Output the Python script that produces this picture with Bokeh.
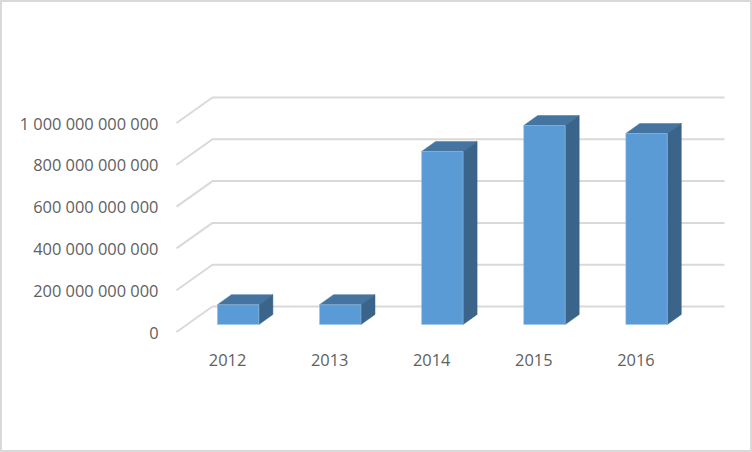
from bokeh.plotting import figure
from bokeh.models import Range1d, FixedTicker, LinearAxis
from bokeh.embed import file_html
from bokeh.resources import INLINE

# data
years = ["2012", "2013", "2014", "2015", "2016"]
values = [95e9, 95e9, 828e9, 952e9, 914e9]
y_ticks = [0, 200e9, 400e9, 600e9, 800e9, 1000e9]
y_labels = ["0", "200 000 000 000", "400 000 000 000", "600 000 000 000",
            "800 000 000 000", "1 000 000 000 000"]

# scale: pixels per slot / per unit
SLOT = 102.1
UNIT = 209 / 1e12
FONT = "Open Sans"
TEXT = "#5f5f5f"
GRID = "#d9d9d9"
FRONT, TOP, SIDE = "#5b9bd5", "#44749f", "#3a6489"

W, H = 752, 452
LEFT, RIGHT, TOP_B, BOTTOM = 170, 22, 90, 116

x0_page, y0_page = 174, 329.5   # origin of the front plane inside the bordered canvas
fl, fr = LEFT, W - RIGHT
ft, fb = TOP_B, H - BOTTOM

p = figure(width=W, height=H, output_backend="svg", toolbar_location=None,
           x_range=Range1d((fl - x0_page) / SLOT, (fr - x0_page) / SLOT),
           y_range=Range1d((y0_page - fb) / UNIT, (y0_page - ft) / UNIT),
           x_axis_type=None, y_axis_type=None,
           min_border_left=LEFT, min_border_right=RIGHT,
           min_border_top=TOP_B, min_border_bottom=BOTTOM)
p.outline_line_color = None
p.xgrid.visible = False
p.ygrid.visible = False
p.background_fill_color = "white"
p.border_fill_color = "white"
p.styles = {"border": f"2px solid {GRID}", "box-sizing": "border-box"}

# axes
ya = LinearAxis(ticker=FixedTicker(ticks=y_ticks),
                major_label_overrides={float(t) if t else 0: l for t, l in zip(y_ticks, y_labels)})
xa = LinearAxis(ticker=FixedTicker(ticks=[i + 0.5 for i in range(len(years))]),
                major_label_overrides={i + 0.5: y for i, y in enumerate(years)})
for a, standoff in ((ya, 8), (xa, 9)):
    a.axis_line_color = None
    a.major_tick_line_color = None
    a.minor_tick_line_color = None
    a.major_label_text_font = FONT
    a.major_label_text_font_size = "16.4px"
    a.major_label_text_color = TEXT
    a.major_label_standoff = standoff
p.add_layout(ya, "left")
p.add_layout(xa, "below")

# gridlines on floor/back wall
DX, DY = 36 / SLOT, 25.5 / UNIT
END_PAD = 1.5 / SLOT
n = len(years)
xs = []
ys = []
for t in y_ticks:
    xs.append([0, DX, n + DX + END_PAD])
    ys.append([t, t + DY, t + DY])
p.multi_line(xs, ys, line_color=GRID, line_width=2)

# 3-D bars
BASE = 7.5 / UNIT
OFF = 10.6 / SLOT
BW = 41.5 / SLOT
BDX, BDY = 14 / SLOT, 10 / UNIT
for i, v in enumerate(values):
    l = i + 0.5 + OFF - BW / 2
    r = l + BW
    b, t = BASE, BASE + v
    p.patch([l, r, r + BDX, l + BDX], [t, t, t + BDY, t + BDY], fill_color=TOP, line_color=TOP, line_width=0.5)
    p.patch([r, r + BDX, r + BDX, r], [b, b + BDY, t + BDY, t], fill_color=SIDE, line_color=SIDE, line_width=0.5)
    p.quad(left=l, right=r, bottom=b, top=t, fill_color=FRONT, line_color="#9dc3e6", line_width=0.5)

open("out.html", "w").write(file_html(p, INLINE))
